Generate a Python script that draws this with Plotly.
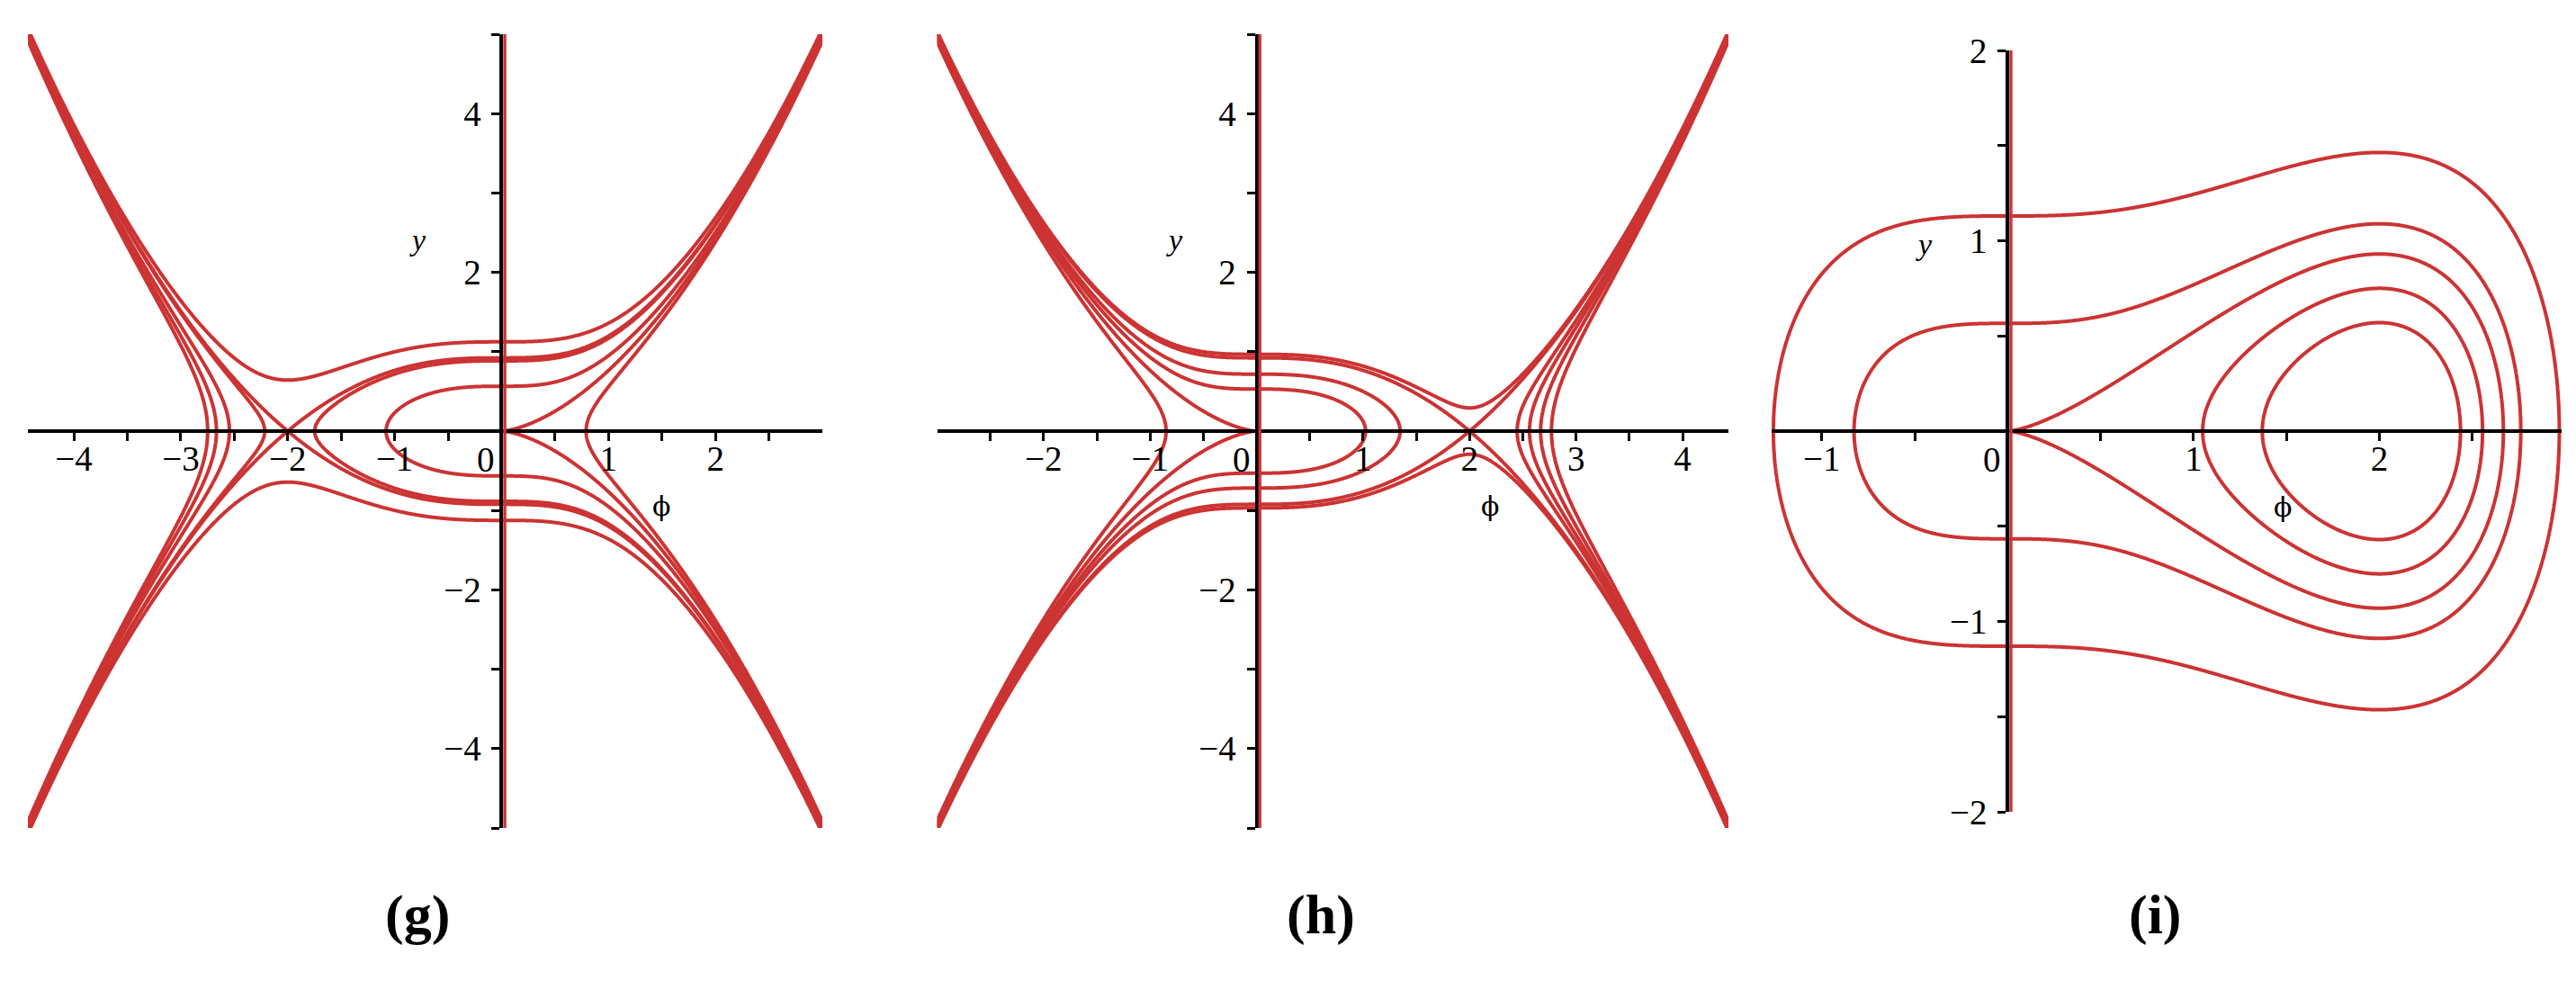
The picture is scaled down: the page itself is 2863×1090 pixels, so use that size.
import numpy as np
import plotly.graph_objects as go

W, H = 2863, 1090
RED = "#CC3333"
FONT = "Liberation Serif, Times New Roman, serif"

# ---- data: Hamiltonian  H(phi, y) = alpha*y^2 + c3*phi^3 + c4*phi^4  for each panel ----
panel_names = ["(g)", "(h)", "(i)"]
alpha = [2.35, 2.35, 2.31]
c3 = [-1.0, 1.0, -1.0]
c4 = [-0.375, -0.375, 0.375]

# contour levels
levels_g = [-0.64, 0.0, 0.75, 1.84, 2.0, 2.97]
levels_h = [-0.81, 0.0, 0.66, 1.21, 2.0, 2.2]
levels_i = [-1.25, -0.7, 0.0, 0.74, 2.95]
levels = [levels_g, levels_h, levels_i]

# axis ranges
phi_range = [[-4.43, 3.0], [-3.0, 4.43], [-1.27, 2.98]]
y_range = [[-5, 5], [-5, 5], [-2, 2]]

# ticks (labelled and unlabelled)
x_tick_labelled = [[-4, -3, -2, -1, 1, 2], [-2, -1, 1, 2, 3, 4], [-1, 1, 2]]
x_tick_minor = [[-3.5, -2.5, -1.5, -0.5, 0.5, 1.5, 2.5],
                [-2.5, -1.5, -0.5, 0.5, 1.5, 2.5, 3.5],
                [-0.5, 0.5, 1.5, 2.5]]
y_tick_labelled = [[-4, -2, 2, 4], [-4, -2, 2, 4], [-2, -1, 1, 2]]
y_tick_minor = [[-5, -3, -1, 1, 3, 5], [-5, -3, -1, 1, 3, 5], [-1.5, -0.5, 0.5, 1.5]]

# axis-name label positions (data coordinates)
ylabel_pos = [(-0.78, 2.41), (-0.77, 2.41), (-0.45, 0.98)]
philabel_pos = [(1.49, -0.95), (2.19, -0.95), (1.48, -0.40)]

# ---- layout (pixel boxes of the three plot areas) ----
px_x = [(23, 906), (1033.5, 1913), (1961, 2839)]
px_y = [(30, 912), (30, 912), (48, 894)]
label_x_px = [456, 1460, 2387]
label_y_px = 1008


def fmt(v):
    s = str(int(v)) if float(v).is_integer() else str(v)
    return s.replace("-", "\u2212")


fig = go.Figure()
layout = dict(width=W, height=H,
              margin=dict(l=0, r=0, t=0, b=0, pad=0, autoexpand=False),
              paper_bgcolor="white", plot_bgcolor="white", showlegend=False)
annotations = []
shapes = []

for k in range(3):
    sfx = "" if k == 0 else str(k + 1)
    xa, ya = "x" + sfx, "y" + sfx
    x0, x1 = phi_range[k]
    y0, y1 = y_range[k]
    phi = np.linspace(x0, x1, 900)
    yy = np.linspace(y0, y1, 900)
    P, Y = np.meshgrid(phi, yy)
    Z = alpha[k] * Y ** 2 + c3[k] * P ** 3 + c4[k] * P ** 4
    for L in levels[k]:
        fig.add_trace(go.Contour(
            x=phi, y=yy, z=Z, xaxis=xa, yaxis=ya,
            autocontour=False,
            contours=dict(start=L, end=L, size=1, coloring="lines"),
            colorscale=[[0, RED], [1, RED]], showscale=False,
            line=dict(width=4, color=RED, smoothing=1.0),
            hoverinfo="skip"))

    dx = (px_x[k][0] / W, px_x[k][1] / W)
    dy = (1 - px_y[k][1] / H, 1 - px_y[k][0] / H)
    pos_y0 = dy[0] + (0 - y0) / (y1 - y0) * (dy[1] - dy[0])
    pos_x0 = dx[0] + (0 - x0) / (x1 - x0) * (dx[1] - dx[0])

    xt = x_tick_labelled[k] + x_tick_minor[k]
    xtt = [fmt(v) for v in x_tick_labelled[k]] + [""] * len(x_tick_minor[k])
    yt = y_tick_labelled[k] + y_tick_minor[k]
    ytt = [fmt(v) for v in y_tick_labelled[k]] + [""] * len(y_tick_minor[k])

    common = dict(showgrid=False, zeroline=False, showline=True, linecolor="black",
                  linewidth=4, ticks="outside", ticklen=9, tickwidth=3,
                  tickcolor="black", tickfont=dict(family=FONT, size=39, color="black"),
                  anchor="free", fixedrange=True, automargin=False)
    layout["xaxis" + sfx] = dict(domain=list(dx), range=[x0, x1], position=pos_y0,
                                 tickvals=xt, ticktext=xtt, ticklabelstandoff=-14, **common)
    layout["yaxis" + sfx] = dict(domain=list(dy), range=[y0, y1], position=pos_x0,
                                 tickvals=yt, ticktext=ytt, ticklabelstandoff=4, **common)

    # red line lying along the y-axis
    shapes.append(dict(type="line", xref=xa, yref=ya + " domain", xsizemode="pixel",
                       xanchor=0, x0=3.6, x1=3.6, y0=0, y1=1,
                       line=dict(color=RED, width=3.4), layer="above"))

    # origin label
    annotations.append(dict(x=0, y=0, xref=xa, yref=ya, text="0", showarrow=False,
                            xanchor="center", yanchor="middle",
                            xshift=-17, yshift=-31,
                            font=dict(family=FONT, size=39, color="black")))
    # axis names
    annotations.append(dict(x=ylabel_pos[k][0], y=ylabel_pos[k][1], xref=xa, yref=ya,
                            text="<i>y</i>", showarrow=False,
                            xanchor="center", yanchor="middle",
                            font=dict(family=FONT, size=34, color="black")))
    annotations.append(dict(x=philabel_pos[k][0], y=philabel_pos[k][1], xref=xa, yref=ya,
                            text="\u03d5", showarrow=False,
                            xanchor="center", yanchor="middle",
                            font=dict(family="DejaVu Serif, " + FONT, size=30, color="black")))
    # panel label
    annotations.append(dict(x=label_x_px[k] / W, y=1 - label_y_px / H, xref="paper",
                            yref="paper", text="<b>" + panel_names[k] + "</b>",
                            showarrow=False, xanchor="center", yanchor="middle",
                            font=dict(family=FONT, size=62, color="black")))

layout["annotations"] = annotations
layout["shapes"] = shapes
fig.update_layout(**layout)
fig.write_html("out.html")
